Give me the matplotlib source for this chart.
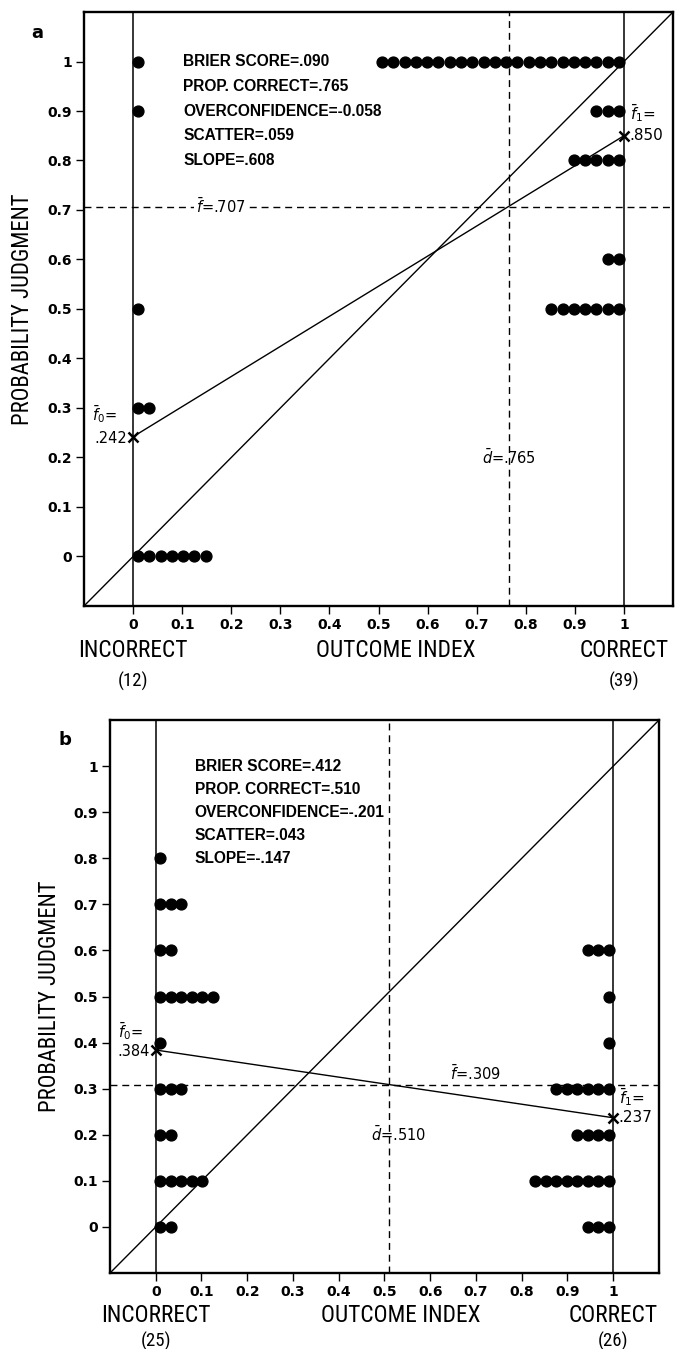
import numpy as np
import matplotlib
matplotlib.use("Agg")
import matplotlib.pyplot as plt

################################################################
##### chart values

# panel a: counts of judgments at each probability level
A_INC_LEVELS = [1.0, 0.9, 0.5, 0.3, 0.0]
A_INC_COUNTS = [1, 1, 1, 2, 7]
A_COR_LEVELS = [1.0, 0.9, 0.8, 0.6, 0.5]
A_COR_COUNTS = [22, 3, 5, 2, 7]
A_F0 = 0.242
A_F1 = 0.850
A_FBAR = 0.707
A_DBAR = 0.765
A_N = [12, 39]
A_STATS = ["BRIER SCORE=.090", "PROP. CORRECT=.765", "OVERCONFIDENCE=-0.058",
           "SCATTER=.059", "SLOPE=.608"]

# panel b
B_INC_LEVELS = [0.8, 0.7, 0.6, 0.5, 0.4, 0.3, 0.2, 0.1, 0.0]
B_INC_COUNTS = [1, 3, 2, 6, 1, 3, 2, 5, 2]
B_COR_LEVELS = [0.6, 0.5, 0.4, 0.3, 0.2, 0.1, 0.0]
B_COR_COUNTS = [3, 1, 1, 6, 4, 8, 3]
B_F0 = 0.384
B_F1 = 0.237
B_FBAR = 0.309
B_DBAR = 0.510
B_N = [25, 26]
B_STATS = ["BRIER SCORE=.412", "PROP. CORRECT=.510", "OVERCONFIDENCE=-.201",
           "SCATTER=.043", "SLOPE=-.147"]

TICKS = [0, 0.1, 0.2, 0.3, 0.4, 0.5, 0.6, 0.7, 0.8, 0.9, 1]
TICK_LABELS = ["0", "0.1", "0.2", "0.3", "0.4", "0.5", "0.6", "0.7", "0.8", "0.9", "1"]

################################################################

NARROW = ["Liberation Sans Narrow", "Roboto Condensed", "DejaVu Sans"]
STEP = 0.023   # spacing between stacked dots along the outcome axis


def dot_positions(levels, counts, start, direction):
    xs, ys = [], []
    for lev, n in zip(levels, counts):
        for i in range(n):
            xs.append(start + direction * i * STEP)
            ys.append(lev)
    return xs, ys


def narrow(ax, x, y, s, size, **kw):
    ax.text(x, y, s, ha="center", va="center", family=NARROW,
            stretch="condensed", fontsize=size, clip_on=False, **kw)


def draw_panel(ax, letter, inc, cor, f0, f1, fbar, dbar, n, stats, cfg):
    ax.set_xlim(-0.1, 1.1)
    ax.set_ylim(-0.1, 1.1)

    # reference lines
    ax.plot([-0.1, 1.1], [-0.1, 1.1], color="k", lw=1.0)
    ax.axvline(0, color="k", lw=1.1)
    ax.axvline(1, color="k", lw=1.1)
    ax.axhline(fbar, color="k", lw=1.0, ls=(0, (5, 3.5)))
    ax.axvline(dbar, color="k", lw=1.0, ls=(0, (5, 3.5)))

    # regression line between the two conditional means
    ax.plot([0, 1], [f0, f1], color="k", lw=1.0)
    ax.plot([0, 1], [f0, f1], ls="none", marker="x", ms=7, mew=1.8, color="k",
            zorder=5)

    # stacked dots
    xi, yi = dot_positions(inc[0], inc[1], 0.01, 1)
    xc, yc = dot_positions(cor[0], cor[1], 0.99, -1)
    ax.plot(xi + xc, yi + yc, ls="none", marker="o", ms=7.8, color="k",
            zorder=4)

    # statistics block
    for i, s in enumerate(stats):
        ax.text(cfg["stats_x"], 1.0 - 0.05 * i, s, ha="left", va="center",
                fontsize=11.2, fontweight="bold", family="Liberation Sans")

    # mean labels
    ax.text(-0.083, f0 + cfg["f0_dy"], r"$\bar{f}_0$=", ha="left", va="center",
            fontsize=10.5)
    ax.text(-0.012, f0 - 0.004, ".%s" % ("%.3f" % f0)[2:], ha="right",
            va="center", fontsize=10.5)
    ax.text(1.012, f1 + 0.045, r"$\bar{f}_1$=", ha="left", va="center",
            fontsize=11)
    ax.text(1.012, f1, ".%s" % ("%.3f" % f1)[2:], ha="left", va="center",
            fontsize=11)
    fb = r"$\bar{f}$=.%s" % ("%.3f" % fbar)[2:]
    if cfg["fbar_on_line"]:
        ax.text(cfg["fbar_x"], fbar, fb, ha="center", va="center", fontsize=10.5,
                bbox=dict(fc="white", ec="none", pad=1.0), zorder=3)
    else:
        ax.text(cfg["fbar_x"], fbar + 0.004, fb, ha="left", va="bottom",
                fontsize=10.5)
    ax.text(dbar + cfg["dbar_dx"], 0.2, r"$\bar{d}$=.%s" % ("%.3f" % dbar)[2:],
            ha="center", va="center", fontsize=10.5)

    # axes styling
    ax.set_xticks(TICKS)
    ax.set_xticklabels(TICK_LABELS)
    ax.set_yticks(TICKS)
    ax.set_yticklabels(TICK_LABELS)
    ax.tick_params(direction="out", length=5.5, width=1.0, pad=3)
    for lab in ax.get_xticklabels() + ax.get_yticklabels():
        lab.set_fontweight("bold")
        lab.set_fontsize(10)
    for sp in ax.spines.values():
        sp.set_linewidth(1.7)

    ax.set_ylabel("PROBABILITY JUDGMENT", family=NARROW, stretch="condensed",
                  fontsize=16.4, labelpad=cfg["ylabelpad"])

    # outcome labels below the axis
    narrow(ax, 0.0, cfg["lab_y"], "INCORRECT", 16.8)
    narrow(ax, 0.535, cfg["lab_y"], "OUTCOME INDEX", 16.8)
    narrow(ax, 1.0, cfg["lab_y"], "CORRECT", 16.8)
    narrow(ax, 0.0, cfg["n_y"], "(%d)" % n[0], 13.5)
    narrow(ax, 1.0, cfg["n_y"], "(%d)" % n[1], 13.5)

    ax.text(cfg["letter_x"], cfg["letter_y"], letter, transform=ax.transAxes,
            ha="center", va="center", fontsize=13, fontweight="bold")


def main():
    fig = plt.figure(figsize=(6.76, 13.49), dpi=100)
    ax_a = fig.add_axes([0.1243, 0.5508, 0.8713, 0.4403])
    ax_b = fig.add_axes([0.1627, 0.0563, 0.8121, 0.4099])

    draw_panel(
        ax_a, "a",
        (A_INC_LEVELS, A_INC_COUNTS), (A_COR_LEVELS, A_COR_COUNTS),
        A_F0, A_F1, A_FBAR, A_DBAR, A_N, A_STATS,
        dict(stats_x=0.102, f0_dy=0.045, fbar_on_line=True, fbar_x=0.178,
             dbar_dx=0.0, ylabelpad=10, lab_y=-0.19, n_y=-0.252,
             letter_x=-0.08, letter_y=0.965),
    )
    draw_panel(
        ax_b, "b",
        (B_INC_LEVELS, B_INC_COUNTS), (B_COR_LEVELS, B_COR_COUNTS),
        B_F0, B_F1, B_FBAR, B_DBAR, B_N, B_STATS,
        dict(stats_x=0.085, f0_dy=0.04, fbar_on_line=False, fbar_x=0.643,
             dbar_dx=0.02, ylabelpad=9, lab_y=-0.193, n_y=-0.248,
             letter_x=-0.082, letter_y=0.964),
    )

    fig.savefig("out.png", dpi=100)
    plt.close(fig)


if __name__ == "__main__":
    main()
